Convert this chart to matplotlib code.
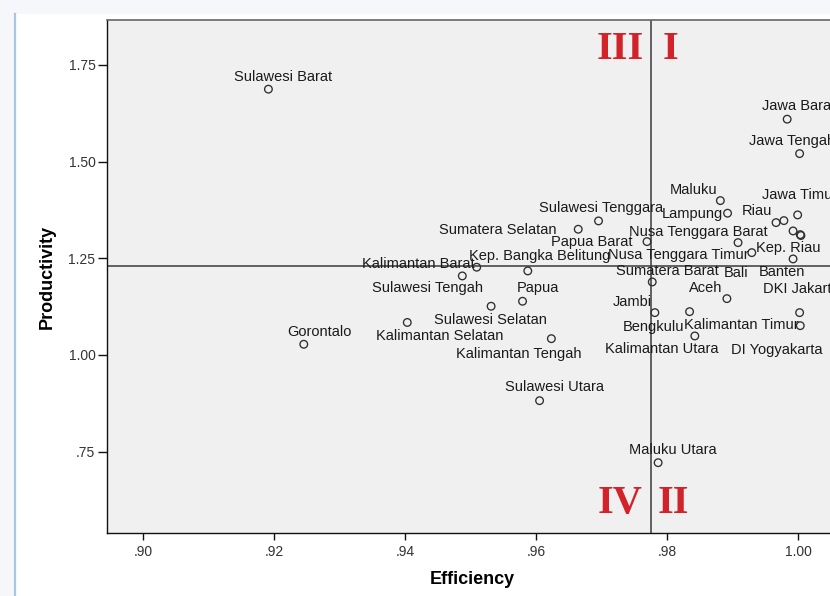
import matplotlib
matplotlib.use("Agg")
import matplotlib.pyplot as plt
from matplotlib.patches import Rectangle
from matplotlib.lines import Line2D
from matplotlib.ticker import FixedLocator, FixedFormatter

# Provinces with their efficiency and productivity scores
provinces = [
    "Sulawesi Barat", "Jawa Barat", "Jawa Tengah", "Maluku", "Jawa Timur",
    "Lampung", "Riau", "Sumatera Utara", "Sulawesi Tenggara", "Sumatera Selatan",
    "Nusa Tenggara Barat", "Papua Barat", "Kep. Riau", "Kep. Bangka Belitung",
    "Nusa Tenggara Timur", "Kalimantan Barat", "Sumatera Barat", "Bali", "Banten",
    "Sulawesi Tengah", "Papua", "Aceh", "DKI Jakarta", "Jambi", "Sulawesi Selatan",
    "Gorontalo", "Kalimantan Selatan", "Bengkulu", "Kalimantan Timur",
    "Kalimantan Tengah", "Kalimantan Utara", "DI Yogyakarta", "Sulawesi Utara",
    "Maluku Utara",
]
efficiency = [
    0.9191, 0.9983, 1.0002, 0.9881, 0.9999,
    0.9892, 0.9966, 0.9978, 0.9695, 0.9664,
    0.9908, 0.9769, 0.9992, 0.9587,
    0.9929, 0.9509, 0.9777, 0.9891, 0.9992,
    0.9487, 0.9579, 0.9834, 1.0002, 0.9781, 0.9531,
    0.9245, 0.9403, 0.9842, 1.0003,
    0.9623, 1.0003, 1.0004, 0.9605,
    0.9786,
]
productivity = [
    1.6872, 1.6096, 1.5206, 1.3991, 1.3621,
    1.3665, 1.3422, 1.3474, 1.3466, 1.3251,
    1.2905, 1.2931, 1.2483, 1.2173,
    1.2646, 1.2269, 1.1888, 1.1457, 1.3207,
    1.2044, 1.1389, 1.1120, 1.1095, 1.1095, 1.1260,
    1.0277, 1.0841, 1.0492, 1.0758,
    1.0422, 1.3112, 1.3088, 0.8819,
    0.7216,
]

# Quadrant dividers (mean efficiency / mean productivity)
eff_cut = 0.97747
prod_cut = 1.2289

x_ticks = [0.90, 0.92, 0.94, 0.96, 0.98, 1.00]
x_tick_labels = [".90", ".92", ".94", ".96", ".98", "1.00"]
y_ticks = [0.75, 1.00, 1.25, 1.50, 1.75]
y_tick_labels = [".75", "1.00", "1.25", "1.50", "1.75"]

# Label placement around each marker: (dx, dy) in pixels, horizontal alignment
label_offsets = [
    (15, 8.6, "center"), (-25, 8.8, "left"), (-51, 8.2, "left"), (-27, 6.2, "center"),
    (-36, 15.5, "left"), (-35.5, -5.2, "center"), (-19, 7.2, "center"), (60, 8.8, "left"),
    (3, 9.2, "center"), (-80.7, -5.2, "center"), (-39.6, 6.9, "center"),
    (-55.4, -4.5, "center"), (-4.4, 6.8, "center"), (11.5, 10.5, "center"),
    (-73.5, -6.1, "center"), (-58.4, -1.2, "center"), (15.2, 6.5, "center"),
    (9.5, 21.5, "center"), (-11.6, -45.5, "center"), (-34.8, -16.2, "center"),
    (15.6, 9.1, "center"), (15.7, 19.2, "center"), (-36.3, 19.2, "left"),
    (-22.9, 6.5, "center"), (-0.5, -17.5, "center"), (16, 8.6, "center"),
    (32.7, -18, "center"), (-41, 4.8, "center"), (-59, -3.1, "center"),
    (-32.5, -19.1, "center"), (-138.3, -118.5, "center"), (-23.9, -118.9, "center"),
    (15, 10, "center"), (15, 8.7, "center"),
]

W, H = 830, 596
fig = plt.figure(figsize=(W / 100, H / 100), dpi=100)
fig.patch.set_facecolor("#f5f7fa")

# White output panel with a light blue left edge
fig.add_artist(Rectangle((15 / W, 0), 1, (H - 14) / H, transform=fig.transFigure,
                         facecolor="white", edgecolor="none", zorder=-5))
fig.add_artist(Line2D([15 / W, 15 / W], [0, (H - 14) / H], transform=fig.transFigure,
                      color="#a9c6e3", lw=1.6, zorder=-4))

left_px, right_px, top_px, bottom_px = 106.5, 837.6, 20, 533
ax = fig.add_axes([left_px / W, (H - bottom_px) / H,
                   (right_px - left_px) / W, (bottom_px - top_px) / H])
ax.set_facecolor("#f0f0f0")
ax.set_xlim(0.89438, 1.006)
ax.set_ylim(0.5398, 1.866)

for side in ["left", "bottom"]:
    ax.spines[side].set_color("#111111")
    ax.spines[side].set_linewidth(1.0)
for side in ["top", "right"]:
    ax.spines[side].set_color("#666666")
    ax.spines[side].set_linewidth(1.2)

ax.xaxis.set_major_locator(FixedLocator(x_ticks))
ax.xaxis.set_major_formatter(FixedFormatter(x_tick_labels))
ax.yaxis.set_major_locator(FixedLocator(y_ticks))
ax.yaxis.set_major_formatter(FixedFormatter(y_tick_labels))
ax.tick_params(axis="x", length=5, width=1, pad=4, labelsize=10,
               labelcolor="#333333", color="#111111")
ax.tick_params(axis="y", length=6.5, width=1, pad=1.5, labelsize=10,
               labelcolor="#333333", color="#111111")
for lab in ax.get_xticklabels() + ax.get_yticklabels():
    lab.set_family("Liberation Sans")

# Quadrant reference lines
ax.axhline(prod_cut, color="#3a3a3a", lw=1.1, zorder=2)
ax.axvline(eff_cut, color="#3a3a3a", lw=1.1, zorder=2)

ax.scatter(efficiency, productivity, s=30, facecolors="none",
           edgecolors="#2e2e2e", linewidths=0.95, zorder=3)

for name, x, y, (dx, dy, ha) in zip(provinces, efficiency, productivity, label_offsets):
    ax.annotate(name, (x, y), xytext=(dx, dy), textcoords="offset pixels",
                ha=ha, va="baseline", fontsize=10.5, color="#1a1a1a",
                family="Liberation Sans", zorder=4)

ax.set_xlabel("Efficiency", fontsize=13, fontweight="bold", family="Liberation Sans",
              labelpad=8)
ax.set_ylabel("Productivity", fontsize=13, fontweight="bold", family="Liberation Sans",
              labelpad=9)

# Quadrant numerals
numerals = [("III", 620.7, 49.3), ("I", 670.7, 49.3), ("IV", 620.0, 503.3), ("II", 673.8, 503.3)]
for text, px, py in numerals:
    fig.text(px / W, 1 - py / H, text, ha="center", va="center", fontsize=29,
             fontweight="bold", family="Liberation Serif", color="#d2232a")

fig.savefig("out.png", dpi=100, facecolor=fig.get_facecolor())
